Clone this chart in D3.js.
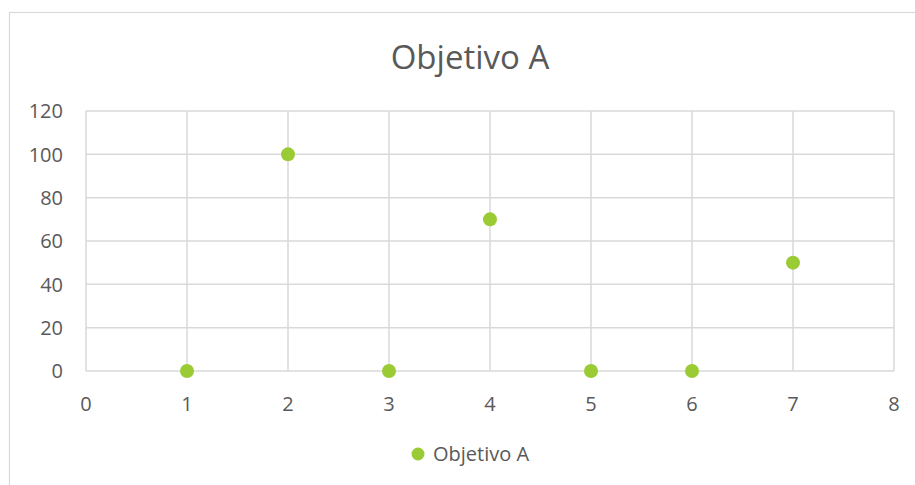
<!DOCTYPE html>
<html>
<head>
<meta charset="utf-8">
<script src="https://cdn.jsdelivr.net/npm/d3@7"></script>
<style>
  body { margin: 0; background: #fff; }
  text { font-family: "Open Sans", "Liberation Sans", sans-serif; fill: #595959; }
</style>
</head>
<body>
<svg id="chart"></svg>
<script>
const title = 'Objetivo A';
const seriesName = 'Objetivo A';
const xValues = [1, 2, 3, 4, 5, 6, 7];
const yValues = [0, 100, 0, 70, 0, 0, 50];
const xTicks = [0, 1, 2, 3, 4, 5, 6, 7, 8];
const yTicks = [0, 20, 40, 60, 80, 100, 120];

const width = 915, height = 485;
const margin = {top: 111, right: 21, bottom: 114, left: 86};

const svg = d3.select('#chart')
    .attr('width', width)
    .attr('height', height);

// chart area border
svg.append('rect')
    .attr('x', 9.5).attr('y', 12.5)
    .attr('width', width).attr('height', height)
    .attr('fill', 'none')
    .attr('stroke', '#d9d9d9')
    .attr('stroke-width', 1.2);

const innerW = width - margin.left - margin.right;
const innerH = height - margin.top - margin.bottom;

const x = d3.scaleLinear().domain([0, 8]).range([0, innerW]);
const y = d3.scaleLinear().domain([0, 120]).range([innerH, 0]);

const g = svg.append('g')
    .attr('transform', `translate(${margin.left}, ${margin.top})`);

// gridlines
g.selectAll('.vgrid')
    .data(xTicks)
    .enter()
    .append('line')
    .attr('x1', d => x(d)).attr('x2', d => x(d))
    .attr('y1', 0).attr('y2', innerH)
    .attr('stroke', '#d9d9d9')
    .attr('stroke-width', 1.5);

g.selectAll('.hgrid')
    .data(yTicks)
    .enter()
    .append('line')
    .attr('x1', 0).attr('x2', innerW)
    .attr('y1', d => y(d)).attr('y2', d => y(d))
    .attr('stroke', '#d9d9d9')
    .attr('stroke-width', 1.5);

// tick labels
g.selectAll('.ylab')
    .data(yTicks)
    .enter()
    .append('text')
    .attr('x', -23)
    .attr('y', d => y(d))
    .attr('dy', '0.36em')
    .attr('text-anchor', 'end')
    .style('font-size', '20px')
    .text(d => d);

g.selectAll('.xlab')
    .data(xTicks)
    .enter()
    .append('text')
    .attr('x', d => x(d))
    .attr('y', innerH + 40)
    .attr('text-anchor', 'middle')
    .style('font-size', '20px')
    .text(d => d);

// points
g.selectAll('circle')
    .data(xValues.map((d, i) => ({x: d, y: yValues[i]})))
    .enter()
    .append('circle')
    .attr('cx', d => x(d.x))
    .attr('cy', d => y(d.y))
    .attr('r', 7)
    .attr('fill', '#9acb34');

// title
svg.append('text')
    .attr('x', 470)
    .attr('y', 69)
    .attr('text-anchor', 'middle')
    .style('font-size', '33px')
    .text(title);

// legend
const legend = svg.append('g')
    .attr('transform', 'translate(418, 454)');
legend.append('circle')
    .attr('r', 6.5)
    .attr('fill', '#9acb34');
legend.append('text')
    .attr('x', 15)
    .attr('dy', '0.36em')
    .style('font-size', '20px')
    .text(seriesName);
</script>
</body>
</html>
